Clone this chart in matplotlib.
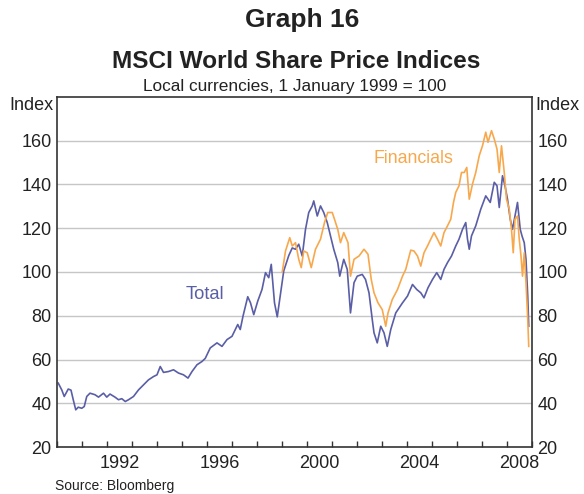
import matplotlib
matplotlib.use("Agg")
import matplotlib.pyplot as plt
from matplotlib.ticker import FixedLocator, NullFormatter

plt.rcParams['font.family'] = ['Liberation Sans', 'DejaVu Sans']

# MSCI World, local currencies, 1 Jan 1999 = 100
total_years = [1990.05, 1990.19, 1990.29, 1990.45, 1990.56, 1990.65, 1990.75, 1990.85, 1990.99,
               1991.09, 1991.19, 1991.32, 1991.52, 1991.66, 1991.86, 1991.99, 1992.12, 1992.32,
               1992.46, 1992.59, 1992.73, 1992.86, 1993.06, 1993.26, 1993.46, 1993.66, 1993.86,
               1994.00, 1994.13, 1994.26, 1994.46, 1994.66, 1994.86, 1995.06, 1995.24, 1995.40,
               1995.60, 1995.80, 1995.93, 1996.13, 1996.40, 1996.60, 1996.80, 1997.00, 1997.23,
               1997.33, 1997.44, 1997.63, 1997.74, 1997.87, 1998.03, 1998.20, 1998.34, 1998.47,
               1998.57, 1998.70, 1998.81, 1998.94, 1999.07, 1999.27, 1999.41, 1999.54, 1999.67,
               1999.81, 1999.94, 2000.07, 2000.21, 2000.27, 2000.41, 2000.54, 2000.67, 2000.81,
               2000.94, 2001.07, 2001.23, 2001.31, 2001.47, 2001.61, 2001.74, 2001.88, 2002.01,
               2002.21, 2002.34, 2002.48, 2002.61, 2002.68, 2002.81, 2002.95, 2003.08, 2003.21,
               2003.35, 2003.55, 2003.82, 2004.02, 2004.22, 2004.39, 2004.55, 2004.68, 2004.84,
               2005.02, 2005.19, 2005.35, 2005.48, 2005.62, 2005.78, 2005.95, 2006.08, 2006.22,
               2006.35, 2006.42, 2006.49, 2006.58, 2006.75, 2006.95, 2007.15, 2007.33, 2007.49,
               2007.60, 2007.69, 2007.82, 2007.92, 2008.02, 2008.13, 2008.22, 2008.32, 2008.42,
               2008.53, 2008.60, 2008.69, 2008.76, 2008.83, 2008.87]
total_values = [49.2, 46.1, 43.1, 46.5, 46.0, 41.6, 37.0, 38.2, 37.7,
                38.5, 43.1, 44.6, 43.9, 42.8, 44.6, 42.8, 44.2, 42.8,
                41.6, 42.1, 40.8, 41.6, 43.1, 46.1, 48.4, 50.7, 52.2,
                53.0, 56.8, 54.1, 54.5, 55.3, 53.8, 53.0, 51.5, 54.5,
                57.6, 59.1, 60.5, 65.3, 67.6, 66.0, 69.1, 70.6, 76.0,
                73.7, 79.8, 88.7, 85.9, 80.5, 86.7, 92.0, 99.7, 97.4,
                103.5, 85.9, 79.5, 90.0, 100.5, 107.5, 111.0, 110.4, 112.7,
                107.3, 119.5, 127.2, 130.2, 132.5, 125.6, 130.2, 127.2, 122.6,
                116.5, 110.4, 104.3, 98.1, 105.8, 101.2, 81.3, 95.1, 98.1,
                98.9, 96.6, 90.5, 78.3, 72.2, 67.6, 75.2, 72.2, 66.0,
                73.7, 81.3, 85.9, 89.0, 94.3, 92.0, 90.5, 88.2, 92.8,
                96.6, 99.7, 96.6, 101.2, 104.3, 107.3, 111.9, 115.0, 119.5,
                122.6, 115.0, 110.4, 116.5, 121.1, 128.7, 134.8, 131.8, 141.0,
                139.4, 129.5, 144.0, 139.4, 133.3, 124.1, 119.5, 125.6, 131.8,
                119.5, 116.5, 113.4, 105.8, 89.0, 75.2]

fin_years = [1999.01, 1999.14, 1999.31, 1999.41, 1999.54, 1999.67, 1999.77, 1999.87, 2000.01,
             2000.17, 2000.34, 2000.54, 2000.70, 2000.83, 2001.01, 2001.10, 2001.23, 2001.34,
             2001.47, 2001.64, 2001.74, 2001.88, 2002.08, 2002.28, 2002.44, 2002.57, 2002.68,
             2002.84, 2003.01, 2003.15, 2003.24, 2003.41, 2003.62, 2003.82, 2003.95, 2004.15,
             2004.28, 2004.42, 2004.55, 2004.68, 2004.82, 2004.95, 2005.08, 2005.22, 2005.35,
             2005.48, 2005.62, 2005.75, 2005.86, 2005.95, 2006.08, 2006.18, 2006.29, 2006.39,
             2006.49, 2006.62, 2006.75, 2006.89, 2007.02, 2007.15, 2007.24, 2007.38, 2007.49,
             2007.60, 2007.69, 2007.78, 2007.89, 2007.98, 2008.09, 2008.18, 2008.25, 2008.32,
             2008.42, 2008.49, 2008.56, 2008.62, 2008.69, 2008.76, 2008.83, 2008.87]
fin_values = [100.0, 109.6, 115.7, 111.9, 113.4, 105.8, 102.0, 109.6, 108.8,
              102.0, 110.4, 115.0, 122.6, 127.2, 127.2, 124.1, 119.5, 113.4,
              118.0, 113.4, 98.1, 105.8, 107.3, 110.4, 108.1, 96.6, 90.5,
              85.9, 82.8, 75.2, 81.3, 87.4, 92.0, 98.1, 101.2, 110.0,
              109.6, 107.3, 102.7, 108.8, 111.9, 115.0, 118.0, 115.0, 111.9,
              118.0, 121.1, 124.1, 131.8, 136.4, 139.4, 145.5, 145.5, 147.8,
              133.3, 140.2, 145.5, 153.2, 157.7, 163.9, 159.3, 164.6, 160.8,
              156.2, 145.5, 157.7, 145.5, 133.3, 128.7, 119.5, 108.8, 124.1,
              125.6, 115.0, 107.3, 98.1, 108.8, 95.1, 78.3, 66.0]

year_ticks = list(range(1990, 2010))
label_years = [1992, 1996, 2000, 2004, 2008]
y_ticks = [20, 40, 60, 80, 100, 120, 140, 160]

total_color = "#5a5ea6"
fin_color = "#f8a84c"
text_color = "#222222"

fig = plt.figure(figsize=(5.84, 4.94), dpi=100)
ax = fig.add_axes([57 / 584, 47 / 494, 475 / 584, 350 / 494])

ax.plot(total_years, total_values, color=total_color, lw=1.2)
ax.plot(fin_years, fin_values, color=fin_color, lw=1.2)

ax.set_xlim(1990, 2009)
ax.set_ylim(20, 180)

for v in y_ticks[1:]:
    ax.axhline(v, color="#c4c6c8", lw=1.0, zorder=0)

# year boundaries as tick marks, labels centred on the year
ax.xaxis.set_major_locator(FixedLocator(year_ticks))
ax.xaxis.set_major_formatter(NullFormatter())
ax.xaxis.set_minor_locator(FixedLocator([y + 0.5 for y in label_years]))
ax.set_xticklabels([str(y) for y in label_years], minor=True)
ax.tick_params(axis="x", which="major", direction="in", length=4, width=1, color="#333333")
ax.tick_params(axis="x", which="minor", length=0, pad=6, labelsize=13, labelcolor=text_color)

ax.set_yticks(y_ticks)
ax.tick_params(axis="y", length=0, labelsize=13, labelleft=True, labelright=True,
               pad=4, labelcolor=text_color)

for s in ax.spines.values():
    s.set_color("#333333")
    s.set_linewidth(1.2)

ax.text(-0.008, 1.0, "Index", transform=ax.transAxes, ha="right", va="top",
        fontsize=13, color=text_color)
ax.text(1.008, 1.0, "Index", transform=ax.transAxes, ha="left", va="top",
        fontsize=13, color=text_color)

ax.text(1995.13, 89.7, "Total", color=total_color, fontsize=13.2, va="center", ha="left")
ax.text(2002.67, 152, "Financials", color=fin_color, fontsize=12.8, va="center", ha="left")

fig.text(302 / 584, 1 - 20 / 494, "Graph 16", ha="center", va="center",
         fontsize=19, fontweight="bold", color=text_color)
fig.text(296 / 584, 1 - 61 / 494, "MSCI World Share Price Indices", ha="center", va="center",
         fontsize=17.6, fontweight="bold", color=text_color)
fig.text(295 / 584, 1 - 86 / 494, "Local currencies, 1 January 1999 = 100", ha="center",
         va="center", fontsize=12.4, color=text_color)
fig.text(55 / 584, 1 - 486 / 494, "Source: Bloomberg", ha="left", va="center",
         fontsize=10, color=text_color)

fig.savefig("out.png", dpi=100)
